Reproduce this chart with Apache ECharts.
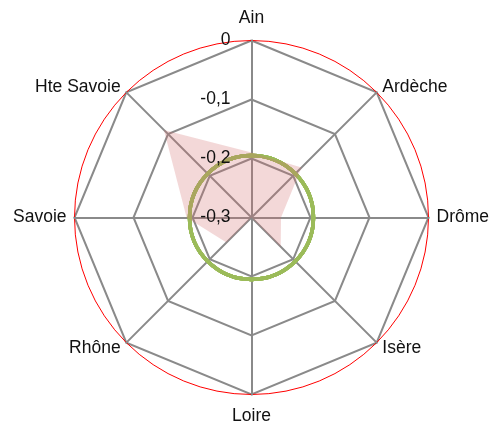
<!DOCTYPE html>
<html>
<head>
<meta charset="utf-8">
<script src="https://cdn.jsdelivr.net/npm/echarts@6/dist/echarts.min.js"></script>
<style>
  html, body { margin: 0; padding: 0; background: #fff; }
  #chart { width: 489px; height: 425px; }
</style>
</head>
<body>
<div id="chart"></div>
<script>
// departments, clockwise from the top
const categories = ['Ain', 'Ardèche', 'Drôme', 'Isère', 'Loire', 'Rhône', 'Savoie', 'Hte Savoie']
const areaValues = [-0.19, -0.18, -0.25, -0.23, -0.30, -0.24, -0.19, -0.09]
const refValues = [-0.195, -0.195, -0.195, -0.195, -0.195, -0.195, -0.195, -0.195]
const tickLabels = ['-0,3', '-0,2', '-0,1', '0']

const FONT = "'Liberation Sans', Arial, sans-serif"
const FONT_SIZE = 17.5
const center = [251.5, 217.5]
const radius = 177

// echarts radar runs counterclockwise, the picture runs clockwise
const order = categories.map((c, i) => (categories.length - i) % categories.length)
const radarNames = order.map(i => categories[i])
const radarArea = order.map(i => areaValues[i])

const chart = echarts.init(document.getElementById('chart'))

chart.setOption({
    backgroundColor: '#fff',
    animation: false,
    radar: {
        center: center,
        radius: radius,
        startAngle: 90,
        splitNumber: 3,
        shape: 'polygon',
        nameGap: 8,
        indicator: radarNames.map(n => ({ name: n, min: -0.3, max: 0 })),
        axisName: {
            color: '#111',
            fontSize: FONT_SIZE,
            fontFamily: FONT,
            lineHeight: 2,
            formatter: n => (n === 'Ain' || n === 'Loire') ? '{v|' + n + '}' : n,
            rich: {
                v: { fontSize: FONT_SIZE, fontFamily: FONT, color: '#111', lineHeight: 28 }
            }
        },
        axisLine: { lineStyle: { color: '#8a8a8a', width: 2 } },
        splitLine: { lineStyle: { color: '#8a8a8a', width: 2 } },
        splitArea: { show: false },
        axisTick: { show: false },
        axisLabel: { show: false }
    },
    polar: {
        center: center,
        radius: radius
    },
    angleAxis: {
        type: 'category',
        data: categories,
        startAngle: 90,
        clockwise: true,
        axisLine: { lineStyle: { color: '#ff0000', width: 1 } },
        axisTick: { show: false },
        axisLabel: { show: false },
        splitLine: { show: false }
    },
    radiusAxis: {
        type: 'value',
        min: -0.3,
        max: 0,
        interval: 0.1,
        z: 10,
        axisLine: { show: false },
        axisTick: { show: false },
        splitLine: { show: false },
        axisLabel: {
            margin: 21,
            showMinLabel: true,
            showMaxLabel: true,
            fontSize: FONT_SIZE,
            fontFamily: FONT,
            color: '#111',
            formatter: v => tickLabels[Math.round((v + 0.3) * 10)]
        }
    },
    series: [{
        type: 'custom',
        coordinateSystem: 'polar',
        z: 3,
        data: refValues.map((v, i) => [v, categories[i]]),
        renderItem(params, api) {
            const cs = params.coordSys
            const p = api.coord([api.value(0), api.value(1)])
            const r = Math.hypot(p[0] - cs.cx, p[1] - cs.cy)
            return {
                type: 'circle',
                shape: { cx: cs.cx, cy: cs.cy, r: r },
                style: { fill: 'none', stroke: '#9BBB59', lineWidth: 3.5 }
            }
        }
    }, {
        type: 'radar',
        z: 4,
        symbol: 'none',
        lineStyle: { width: 0 },
        areaStyle: { color: 'rgba(210,110,110,0.38)' },
        data: [{ value: radarArea }]
    }]
})
</script>
</body>
</html>
